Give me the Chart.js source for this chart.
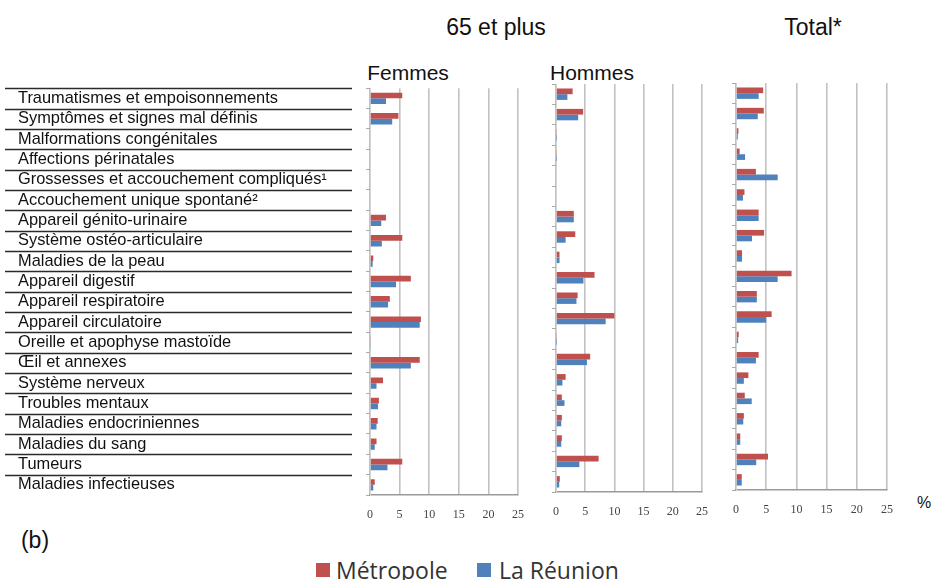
<!DOCTYPE html>
<html>
<head>
<meta charset="utf-8">
<script src="https://cdn.jsdelivr.net/npm/chart.js@4.4.1/dist/chart.umd.min.js"></script>
<style>
  body { margin: 0; background: #fff; width: 935px; height: 580px; position: relative; overflow: hidden;
         font-family: "Liberation Sans", Arial, sans-serif; }
  canvas { position: absolute; }
  .t { position: absolute; color: #111; white-space: nowrap; transform: translate(-50%, -50%); }
  .sq { position: absolute; width: 14px; height: 14px; }
  .lg { position: absolute; font-family: "Open Sans", sans-serif; font-size: 23px; color: #333; white-space: nowrap; }
</style>
</head>
<body>
<div class="t" style="left:496px;top:27px;font-size:23px">65 et plus</div>
<div class="t" style="left:813px;top:27px;font-size:23px">Total*</div>
<div class="t" style="left:408px;top:73px;font-size:21px">Femmes</div>
<div class="t" style="left:592px;top:73px;font-size:21px">Hommes</div>
<div class="t" style="left:924px;top:503px;font-size:16px">%</div>
<div class="t" style="left:35px;top:540px;font-size:23px">(b)</div>

<canvas id="femmes" width="537" height="449" style="left:0;top:77px"></canvas>
<canvas id="hommes" width="181" height="443" style="left:540px;top:80px"></canvas>
<canvas id="total" width="186" height="441" style="left:720px;top:80px"></canvas>

<div class="sq" style="left:316px;top:563px;background:#c0504d"></div>
<div class="lg" style="left:336px;top:554px">Métropole</div>
<div class="sq" style="left:477px;top:563px;background:#4f81bd"></div>
<div class="lg" style="left:499px;top:554px">La Réunion</div>

<script>
const categories = [
  'Traumatismes et empoisonnements',
  'Symptômes et signes mal définis',
  'Malformations congénitales',
  'Affections périnatales',
  'Grossesses et accouchement compliqués¹',
  'Accouchement unique spontané²',
  'Appareil génito-urinaire',
  'Système ostéo-articulaire',
  'Maladies de la peau',
  'Appareil digestif',
  'Appareil respiratoire',
  'Appareil circulatoire',
  'Oreille et apophyse mastoïde',
  'Œil et annexes',
  'Système nerveux',
  'Troubles mentaux',
  'Maladies endocriniennes',
  'Maladies du sang',
  'Tumeurs',
  'Maladies infectieuses'
];

const femmesMetropole = [5.45, 4.8, 0, 0, 0, 0, 2.7, 5.45, 0.55, 6.9, 3.35, 8.6, 0.1, 8.4, 2.2, 1.5, 1.3, 1.1, 5.45, 0.8];
const femmesReunion   = [2.7, 3.75, 0, 0, 0, 0, 1.9, 2.0, 0.45, 4.4, 3.05, 8.4, 0.1, 6.9, 1.1, 1.35, 1.1, 0.8, 2.95, 0.55];
const hommesMetropole = [2.85, 4.65, 0.1, 0.1, 0, 0, 3.05, 3.3, 0.6, 6.6, 3.7, 10.0, 0.1, 5.85, 1.65, 1.0, 1.0, 1.0, 7.3, 0.65];
const hommesReunion   = [1.95, 3.8, 0.05, 0.05, 0, 0, 3.05, 1.65, 0.6, 4.7, 3.5, 8.5, 0.05, 5.3, 1.1, 1.45, 0.9, 0.9, 4.0, 0.55];
const totalMetropole  = [4.5, 4.6, 0.4, 0.6, 3.3, 1.4, 3.75, 4.65, 1.0, 9.2, 3.45, 5.9, 0.45, 3.75, 2.05, 1.45, 1.3, 0.7, 5.3, 0.95];
const totalReunion    = [3.75, 3.6, 0.3, 1.5, 6.9, 1.15, 3.75, 2.65, 1.0, 6.9, 3.45, 5.0, 0.35, 3.3, 1.3, 2.6, 1.2, 0.7, 3.35, 0.95];
const xTicks = [0, 5, 10, 15, 20, 25];

const RED = '#c0504d';
const BLUE = '#4f81bd';

// lines under the category labels (left table)
const separators = {
  id: 'separators',
  afterDraw(chart) {
    const y = chart.scales.y;
    const step = (y.bottom - y.top) / categories.length;
    const ctx = chart.ctx;
    ctx.save();
    ctx.strokeStyle = '#2a2a2a';
    ctx.lineWidth = 1.5;
    for (let i = 0; i < categories.length; i++) {
      const py = Math.round(y.getPixelForValue(i) - step / 2) + 0.5;
      ctx.beginPath();
      ctx.moveTo(5, py);
      ctx.lineTo(352, py);
      ctx.stroke();
    }
    ctx.restore();
  }
};

function panel(id, met, reu, opts) {
  new Chart(document.getElementById(id), {
    type: 'bar',
    data: {
      labels: categories,
      datasets: [
        { label: 'Métropole', data: met, backgroundColor: RED, categoryPercentage: 0.56, barPercentage: 1 },
        { label: 'La Réunion', data: reu, backgroundColor: BLUE, categoryPercentage: 0.56, barPercentage: 1 }
      ]
    },
    options: {
      indexAxis: 'y',
      responsive: false,
      animation: false,
      layout: { padding: { left: opts.padLeft, top: opts.padTop, right: 12, bottom: 0 } },
      plugins: { legend: { display: false }, tooltip: { enabled: false } },
      scales: {
        x: {
          min: 0,
          max: 25,
          afterBuildTicks: s => { s.ticks = xTicks.map(v => ({ value: v })); },
          grid: { color: '#c2c2c2', lineWidth: 1.6, drawTicks: false },
          border: { color: '#9a9a9a', width: 1.5 },
          ticks: { padding: 13, color: '#444', font: { family: 'Liberation Sans Narrow', size: 12 } },
          afterFit: s => { s.height = 31; }
        },
        y: {
          grid: { offset: true, drawOnChartArea: false, tickLength: 4, color: '#aaa' },
          border: { color: '#d4d4d4' },
          ticks: {
            display: opts.labels,
            autoSkip: false,
            crossAlign: 'far',
            color: '#111',
            font: { family: 'Liberation Sans', size: 16.4, lineHeight: 1 }
          },
          afterFit: s => { s.width = opts.yWidth; }
        }
      }
    },
    plugins: opts.labels ? [separators] : []
  });
}

panel('femmes', femmesMetropole, femmesReunion, { padLeft: 18, padTop: 4, yWidth: 352, labels: true });
panel('hommes', hommesMetropole, hommesReunion, { padLeft: 0, padTop: 4, yWidth: 13, labels: false });
panel('total', totalMetropole, totalReunion, { padLeft: 0, padTop: 3, yWidth: 16, labels: false });
</script>
</body>
</html>
